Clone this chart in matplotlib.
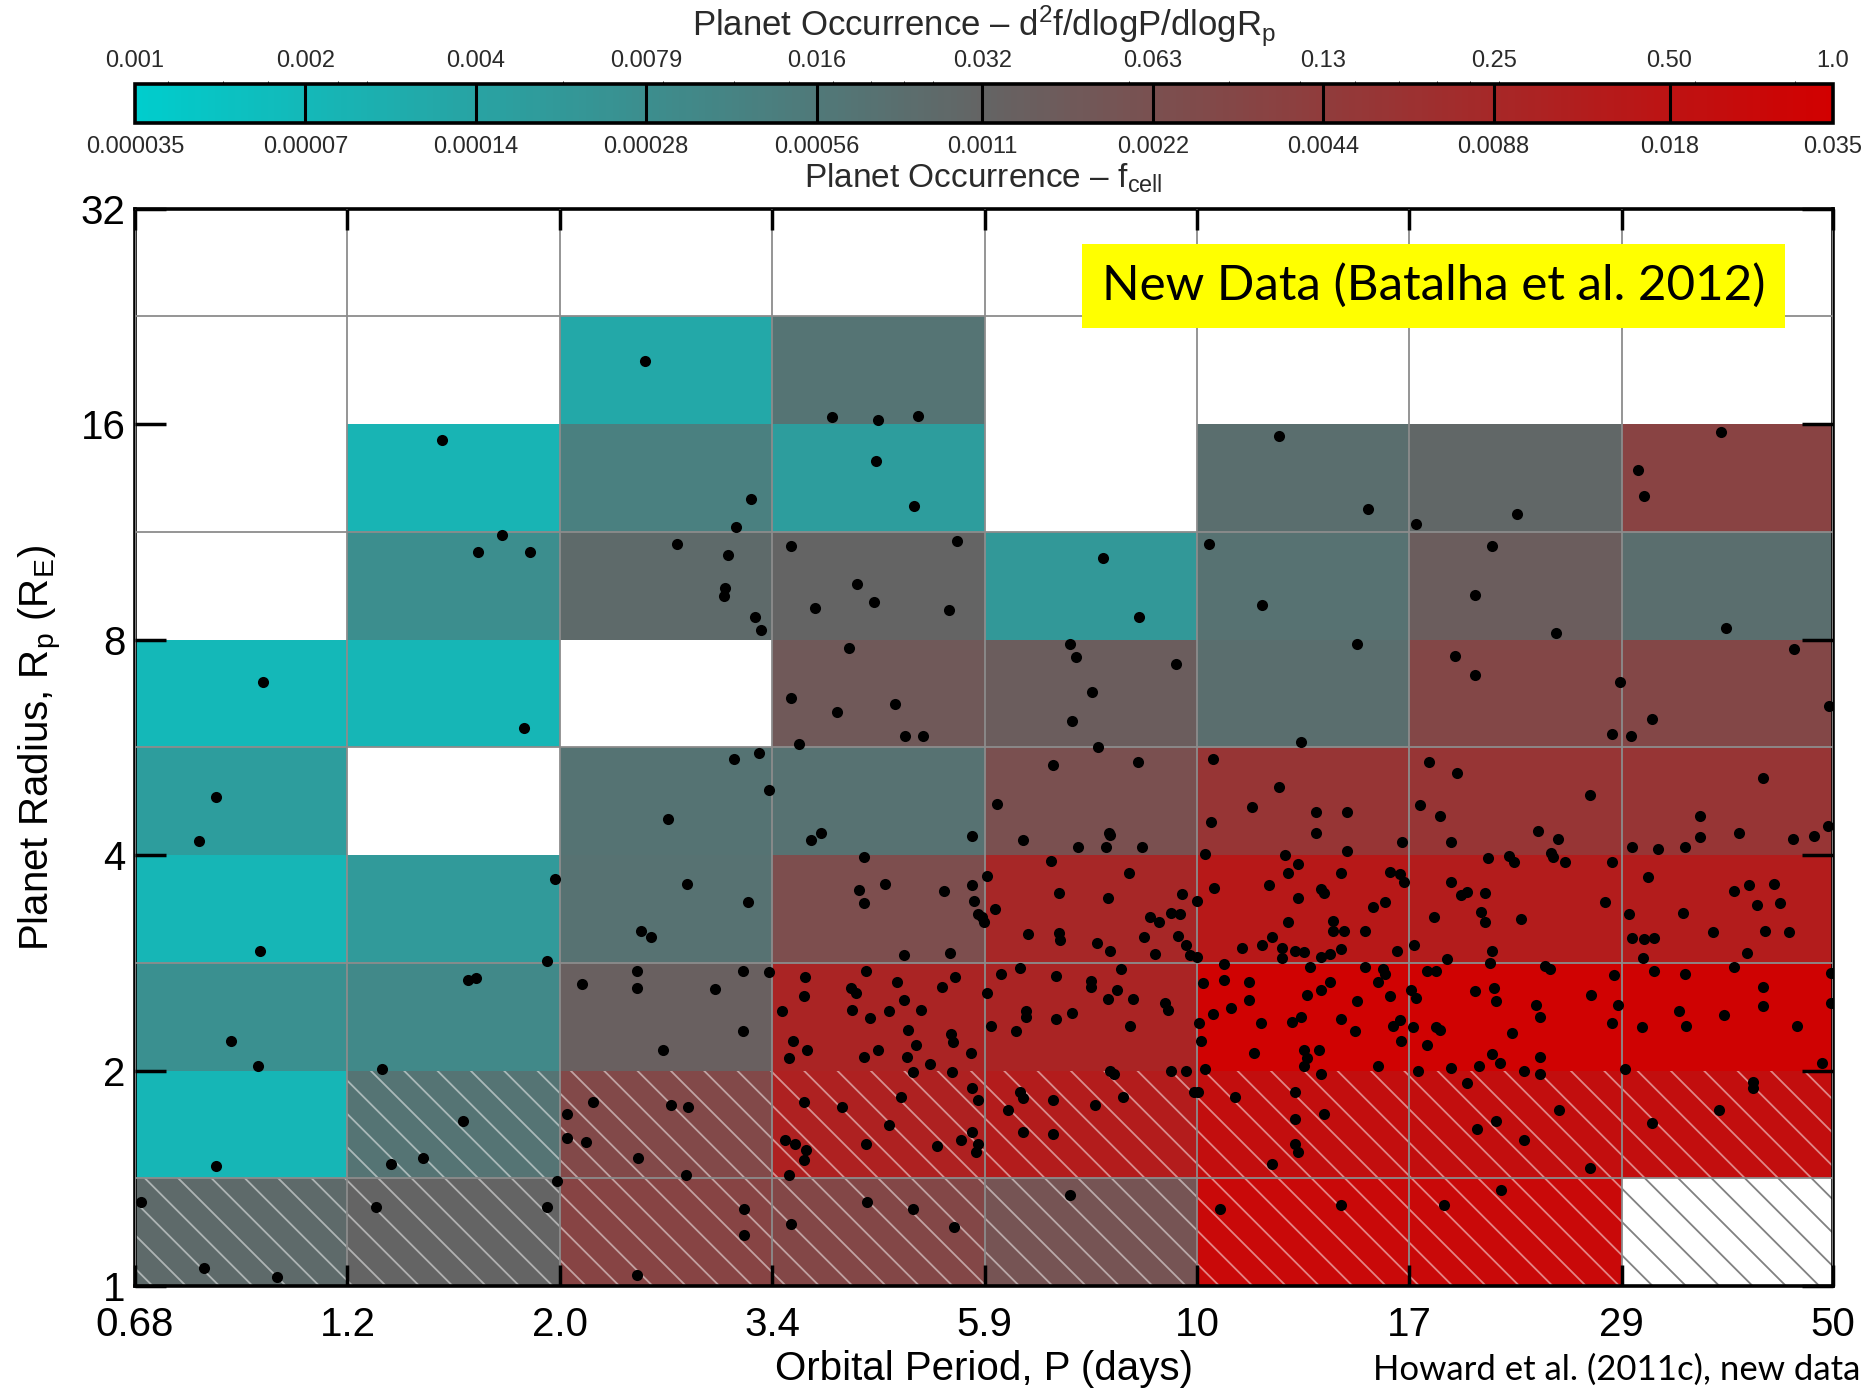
import numpy as np
import matplotlib
matplotlib.use("Agg")
import matplotlib.pyplot as plt
from matplotlib.colors import LinearSegmentedColormap, LogNorm
from matplotlib.patches import Rectangle
from matplotlib.ticker import FixedLocator, NullLocator, NullFormatter

plt.rcParams["font.family"] = ["Liberation Sans", "DejaVu Sans"]
plt.rcParams["mathtext.fontset"] = "custom"
plt.rcParams["mathtext.rm"] = "Liberation Sans"
plt.rcParams["mathtext.it"] = "Liberation Sans:italic"
plt.rcParams["hatch.linewidth"] = 1.3

# bin edges of the occurrence grid
PERIOD_EDGES = [0.68, 1.164, 1.993, 3.41, 5.84, 10.0, 17.1, 29.3, 50.0]
PERIOD_LABELS = ["0.68", "1.2", "2.0", "3.4", "5.9", "10", "17", "29", "50"]
RADIUS_EDGES = [1.0, 1.414, 2.0, 2.828, 4.0, 5.657, 8.0, 11.31, 16.0, 22.63, 32.0]
RADIUS_TICKS = [1, 2, 4, 8, 16, 32]

# colour scale: per-cell occurrence and the matching density per dlogP dlogR
FCELL_TICKS = [0.000035, 0.00007, 0.00014, 0.00028, 0.00056, 0.0011,
               0.0022, 0.0044, 0.0088, 0.018, 0.035]
FCELL_LABELS = ["0.000035", "0.00007", "0.00014", "0.00028", "0.00056", "0.0011",
                "0.0022", "0.0044", "0.0088", "0.018", "0.035"]
DENSITY_LABELS = ["0.001", "0.002", "0.004", "0.0079", "0.016", "0.032",
                  "0.063", "0.13", "0.25", "0.50", "1.0"]

nan = np.nan
# f_cell per bin, rows = radius bins (small to large), columns = period bins
f_cell = [
    [9.0e-4, 1.1e-3, 3.3e-3, 3.0e-3, 1.9e-3, 2.6e-2, 2.6e-2, nan],
    [7.5e-5, 6.5e-4, 2.8e-3, 1.1e-2, 1.3e-2, 2.1e-2, 2.1e-2, 2.1e-2],
    [2.6e-4, 3.3e-4, 1.3e-3, 1.0e-2, 1.0e-2, 3.3e-2, 3.3e-2, 3.2e-2],
    [7.5e-5, 1.9e-4, 7.0e-4, 2.4e-3, 9.0e-3, 1.5e-2, 1.3e-2, 1.3e-2],
    [1.7e-4, nan, 6.8e-4, 7.0e-4, 2.2e-3, 5.5e-3, 5.5e-3, 5.5e-3],
    [7.0e-5, 7.5e-5, nan, 1.6e-3, 1.4e-3, 7.8e-4, 3.0e-3, 3.0e-3],
    [nan, 2.8e-4, 9.0e-4, 1.1e-3, 2.0e-4, 7.0e-4, 1.4e-3, 7.8e-4],
    [nan, 8.0e-5, 4.5e-4, 1.7e-4, nan, 7.8e-4, 1.0e-3, 3.5e-3],
    [nan, nan, 1.2e-4, 6.5e-4, nan, nan, nan, nan],
    [nan, nan, nan, nan, nan, nan, nan, nan],
]

# bins with low completeness (hatched)
low_completeness = [
    [1, 1, 1, 1, 1, 1, 1, 1],
    [0, 1, 1, 1, 1, 1, 1, 1],
]

# planet candidates: orbital period (days) and radius (Earth radii)
dot_period = [
    0.939, 0.834, 0.800, 0.934, 0.868, 0.929, 0.834, 0.690, 0.810, 0.974,
    1.48, 1.72, 1.62, 1.85, 1.82, 1.97, 1.93, 1.58,
    1.61, 1.27, 1.56, 1.41, 1.30, 1.25, 1.93, 1.98,
    2.47, 3.23, 3.11, 2.68, 3.05, 3.02, 3.03, 3.27, 3.32, 3.30, 3.10, 3.38,
    2.62, 2.75, 3.21, 2.45, 2.51, 3.38, 2.42, 3.17, 2.11, 2.42, 2.95, 3.17,
    2.59, 2.17, 2.64, 2.76, 2.03, 2.03, 2.13, 2.43, 2.74, 3.18, 3.18, 2.42,
    3.97, 4.46, 4.94, 4.44, 4.89, 3.58, 5.44, 4.23, 4.41,
    3.80, 5.33, 4.14, 3.58, 4.02, 4.66, 4.77, 5.00, 3.65,
    3.76, 3.86, 5.65, 4.30, 4.25, 4.30, 4.54, 5.27,
    5.65, 5.68, 5.75, 5.83, 5.80, 4.76, 5.35,
    3.71, 3.70, 3.50, 3.60, 3.56, 3.73, 4.16, 4.22, 4.18, 4.33,
    4.68, 4.37, 4.58, 4.76, 4.97, 4.81, 4.91, 5.24, 5.42,
    5.36, 5.39, 5.64, 4.46, 4.30, 4.80, 5.08, 4.87, 5.38,
    3.70, 4.07, 4.73, 4.58, 5.65, 5.75, 3.52, 3.61, 3.72,
    3.70, 3.56, 4.33, 5.18, 5.50, 5.65, 5.75, 5.71,
    4.34, 4.87, 3.58, 5.40,
    7.89, 8.64, 7.24, 7.36, 9.47, 7.66, 7.28, 7.79,
    6.94, 8.60, 6.02, 6.44, 8.00, 8.03, 7.40, 7.94, 8.69,
    6.90, 5.88, 6.00, 7.05, 7.98, 8.41, 9.63, 9.37, 9.58, 8.88, 9.07,
    6.51, 7.05, 7.07, 7.77, 8.03, 8.74, 9.52, 9.72, 9.83, 8.98,
    6.09, 6.39, 5.88, 7.00, 7.65, 7.65, 8.24, 7.98, 8.17, 8.51, 6.49, 6.49,
    5.94, 6.33, 7.00, 7.29, 8.43, 9.22, 9.30, 8.02, 8.10, 9.37, 9.73,
    6.39, 6.44, 6.20, 6.94, 7.73, 8.29, 9.93, 6.44, 6.94, 7.24,
    12.3, 15.4, 10.3, 11.8, 15.0, 13.0, 10.4, 10.35, 11.5, 12.3, 13.5, 14.6,
    13.5, 10.2, 12.5, 14.6, 16.8,
    12.9, 12.6, 14.4, 10.45, 12.0, 13.7, 13.8, 12.9, 10.0, 16.3, 16.7, 16.9,
    15.6, 16.1, 12.6, 14.1, 14.1, 14.5, 15.3, 11.2, 11.8, 12.1, 12.4, 12.8,
    13.1, 13.7, 14.0, 14.4, 16.6, 10.0, 12.4,
    10.7, 13.3, 10.15, 10.7, 11.4, 11.4, 10.9, 10.4, 10.05, 10.1, 11.75, 11.55,
    10.2, 13.2, 13.7, 14.0, 15.0, 12.7, 13.0, 14.4, 14.9, 13.1, 13.2, 13.1,
    13.6, 15.3, 16.0, 16.1, 15.8, 16.3, 16.4, 16.7, 15.8, 16.75,
    13.7, 10.02, 11.0, 12.8, 13.8, 12.8, 12.8, 12.9, 12.1, 10.6, 14.4,
    17.4, 22.5, 21.1, 20.2, 24.8, 19.2, 20.2, 29.2, 28.6,
    18.0, 19.3, 17.6, 18.5, 19.0, 23.7, 24.9, 24.5, 27.0,
    20.9, 22.0, 22.3, 24.6, 25.4, 28.6, 19.0, 19.5, 19.8, 20.7,
    18.2, 20.5, 20.7, 22.7, 28.1, 17.3, 18.8, 21.1, 21.0,
    18.3, 17.9, 24.1, 24.4, 28.7, 17.2, 17.4, 20.2, 21.2, 21.3, 17.25, 18.3, 18.5,
    17.9, 22.2, 23.6, 23.8, 27.1, 29.0, 28.6, 21.1, 21.5, 23.8, 20.4, 19.0, 17.5, 22.9,
    23.8, 20.3, 21.3, 22.9, 19.8, 25.0, 27.0, 21.6, 18.7,
    37.7, 30.5, 31.0, 38.1, 31.6, 30.0, 45.3, 49.5,
    41.9, 35.7, 35.7, 39.4, 45.2, 47.6, 49.4, 30.1, 32.1, 34.4,
    29.8, 31.3, 34.2, 30.1, 31.0, 31.8, 30.9, 38.9,
    40.4, 43.1, 41.3, 43.7, 42.1, 44.7, 36.9, 40.2,
    38.9, 30.8, 31.8, 34.4, 33.9, 34.5, 37.9, 49.8,
    41.9, 41.9, 45.6, 29.5, 48.6, 49.7, 31.6, 37.5, 40.8, 40.8,
]
dot_radius = [
    6.99, 4.83, 4.19, 2.94, 2.20, 2.03, 1.47, 1.31, 1.06, 1.03,
    15.2, 11.2, 10.6, 10.6, 6.02, 3.70, 2.85, 2.68,
    2.69, 2.01, 1.70, 1.51, 1.48, 1.29, 1.29, 1.40,
    19.6, 12.6, 11.5, 10.9, 10.5, 9.22, 9.45, 8.60, 8.25, 5.56, 5.45, 4.94,
    4.50, 3.65, 3.44, 3.13, 3.07, 2.75, 2.76, 2.76, 2.64, 2.61, 2.60, 2.27,
    2.14, 1.81, 1.79, 1.78, 1.74, 1.61, 1.59, 1.51, 1.43, 1.28, 1.18, 1.035,
    16.4, 16.2, 16.45, 14.2, 12.3, 10.8, 11.0, 9.57, 9.03,
    8.86, 8.80, 7.78, 6.64, 6.34, 6.50, 5.86, 5.86, 5.72,
    4.20, 4.29, 4.26, 3.98, 3.58, 3.43, 3.65, 3.57,
    3.63, 3.45, 3.31, 3.23, 3.28, 2.90, 2.92,
    2.70, 2.54, 2.42, 2.20, 2.08, 2.14, 2.61, 2.57, 2.43, 2.76,
    2.66, 2.37, 2.42, 2.51, 2.43, 2.28, 2.17, 2.62, 2.70,
    2.25, 2.19, 2.12, 2.14, 2.09, 2.09, 2.04, 1.99, 1.99,
    1.81, 1.78, 1.84, 1.68, 1.89, 1.82, 1.60, 1.58, 1.55,
    1.50, 1.43, 1.58, 1.57, 1.60, 1.64, 1.58, 1.54,
    1.31, 1.28, 1.22, 1.21,
    10.4, 8.60, 7.88, 7.57, 7.41, 6.76, 6.15, 5.67,
    5.34, 5.39, 4.71, 4.20, 4.29, 4.27, 4.10, 4.10, 4.10,
    3.93, 3.74, 3.36, 3.54, 3.48, 3.78, 3.53, 3.32, 3.31, 3.28, 3.23,
    3.10, 3.11, 3.04, 3.02, 2.94, 3.07, 3.08, 3.00, 2.90, 2.91,
    2.73, 2.78, 2.57, 2.71, 2.67, 2.62, 2.77, 2.52, 2.59, 2.52, 2.42, 2.38,
    2.31, 2.27, 2.36, 2.41, 2.31, 2.49, 2.43, 2.00, 1.98, 2.00, 2.00,
    1.87, 1.83, 1.76, 1.82, 1.79, 1.84, 1.87, 1.64, 1.63, 1.34,
    15.4, 12.2, 10.9, 8.94, 7.90, 5.75, 5.45, 4.45, 4.67, 4.98, 4.60, 4.60,
    4.29, 4.02, 4.00, 4.05, 4.17,
    3.89, 3.78, 3.78, 3.60, 3.63, 3.59, 3.54, 3.49, 3.45, 3.79, 3.77, 3.67,
    3.39, 3.44, 3.23, 3.24, 3.13, 3.13, 3.13, 2.97, 3.00, 3.07, 2.97, 2.94,
    2.93, 2.88, 2.91, 2.96, 2.94, 2.88, 2.87,
    2.82, 2.79, 2.65, 2.68, 2.66, 2.51, 2.45, 2.40, 2.33, 2.20, 2.33, 2.12,
    2.01, 2.55, 2.59, 2.66, 2.50, 2.34, 2.38, 2.36, 2.27, 2.14, 2.08, 2.03,
    2.14, 2.79, 2.77, 2.73, 2.66, 2.54, 2.31, 2.35, 2.03, 2.20,
    1.98, 1.87, 1.84, 1.87, 1.74, 1.71, 1.58, 1.54, 1.48, 1.28, 1.30,
    11.6, 12.0, 10.8, 9.23, 8.17, 7.58, 7.14, 6.98, 5.90,
    5.40, 5.21, 4.70, 4.53, 4.17, 4.32, 4.21, 4.03, 4.86,
    3.97, 3.99, 3.91, 3.98, 3.91, 3.91, 3.67, 3.52, 3.55, 3.54,
    3.28, 3.33, 3.23, 3.26, 3.44, 3.00, 2.86, 2.94, 2.83,
    2.76, 2.76, 2.80, 2.77, 2.72, 2.59, 2.53, 2.58, 2.61, 2.50, 2.30, 2.30, 2.28,
    2.17, 2.26, 2.47, 2.38, 2.55, 2.47, 2.33, 2.11, 2.05, 2.09, 2.03, 2.02, 2.00, 2.00,
    1.98, 1.66, 1.70, 1.60, 1.92, 1.76, 1.46, 1.36, 1.30,
    15.6, 13.8, 12.7, 8.30, 6.20, 5.87, 7.77, 6.47,
    5.12, 4.53, 4.24, 4.29, 4.21, 4.26, 4.40, 4.10, 4.08, 4.10,
    3.31, 3.73, 3.32, 3.06, 3.05, 3.06, 2.87, 3.56,
    3.63, 3.64, 3.41, 3.43, 3.13, 3.12, 3.12, 2.92,
    2.79, 2.30, 2.76, 2.73, 2.42, 2.31, 2.39, 2.74,
    2.62, 2.46, 2.31, 2.01, 2.05, 2.49, 1.69, 1.76, 1.93, 1.89,
]

fig = plt.figure(figsize=(18.7, 13.92), dpi=100)
ax = fig.add_axes([0.0722, 0.0761, 0.908, 0.7739])

cmap = LinearSegmentedColormap.from_list("occurrence", ["#00cdcd", "#646464", "#d20000"])
cmap.set_bad((1, 1, 1, 0))
norm = LogNorm(vmin=FCELL_TICKS[0], vmax=FCELL_TICKS[-1])

mesh = ax.pcolormesh(PERIOD_EDGES, RADIUS_EDGES, np.ma.masked_invalid(f_cell),
                     cmap=cmap, norm=norm, zorder=1)

# hatch the low-completeness bins
for r, row in enumerate(low_completeness):
    for c, flag in enumerate(row):
        if not flag:
            continue
        empty = np.isnan(f_cell[r][c])
        ax.add_patch(Rectangle(
            (PERIOD_EDGES[c], RADIUS_EDGES[r]),
            PERIOD_EDGES[c + 1] - PERIOD_EDGES[c],
            RADIUS_EDGES[r + 1] - RADIUS_EDGES[r],
            facecolor="none",
            edgecolor=(0.45, 0.45, 0.45, 0.9) if empty else (1, 1, 1, 0.5),
            hatch="\\", linewidth=0, zorder=2,
        ))

ax.plot(dot_period, dot_radius, "o", color="black", markersize=8,
        markeredgewidth=0, zorder=5)

ax.set_xscale("log")
ax.set_yscale("log", base=2)
ax.set_xlim(PERIOD_EDGES[0], PERIOD_EDGES[-1])
ax.set_ylim(RADIUS_EDGES[0], RADIUS_EDGES[-1])

ax.xaxis.set_major_locator(FixedLocator(PERIOD_EDGES))
ax.xaxis.set_minor_locator(NullLocator())
ax.set_xticklabels(PERIOD_LABELS)
ax.yaxis.set_major_locator(FixedLocator(RADIUS_TICKS))
ax.yaxis.set_minor_locator(FixedLocator(RADIUS_EDGES))
ax.yaxis.set_minor_formatter(NullFormatter())
ax.set_yticklabels([str(t) for t in RADIUS_TICKS])

ax.set_axisbelow(False)
grid_color = (0.55, 0.55, 0.55, 0.45)
ax.grid(True, which="major", axis="x", color=grid_color, linewidth=1.3)
ax.grid(True, which="minor", axis="y", color=grid_color, linewidth=1.3)

ax.tick_params(axis="x", which="major", direction="in", length=15, width=2.5,
               top=True, labelsize=29, pad=14)
ax.tick_params(axis="y", which="major", direction="in", length=22, width=2.5,
               right=True, labelsize=29, pad=7)
ax.tick_params(axis="y", which="minor", length=0)
for spine in ax.spines.values():
    spine.set_linewidth(2.6)

# label box for the data source
ax.add_patch(Rectangle((0.558, 0.8895), 0.414, 0.078, transform=ax.transAxes,
                       facecolor="#ffff00", edgecolor="none", zorder=6))
ax.text(0.765, 0.9285, "New Data (Batalha et al. 2012)", transform=ax.transAxes,
        ha="center", va="center", fontsize=35.5, family=["Lato", "DejaVu Sans"],
        color="black", zorder=7)

# colour bar with both occurrence scales
cax = fig.add_axes([0.0722, 0.9116, 0.908, 0.0284])
cb = fig.colorbar(mesh, cax=cax, orientation="horizontal")
cb.minorticks_off()
cb.set_ticks(FCELL_TICKS, labels=FCELL_LABELS)
cb.outline.set_linewidth(2.6)
for f in FCELL_TICKS[1:-1]:
    cax.axvline(f, color="black", linewidth=2.2)
cax.tick_params(axis="x", length=0, labelsize=17, pad=9, labelcolor="#2a2a2a")
top = cax.secondary_xaxis("top")
top.set_xticks(FCELL_TICKS, labels=DENSITY_LABELS)
top.tick_params(length=0, labelsize=17, pad=8, labelcolor="#2a2a2a")
for spine in top.spines.values():
    spine.set_visible(False)

fig.text(0.526, 0.981, "Planet Occurrence – d$^2$f/dlogP/dlogR$_\\mathrm{p}$",
         ha="center", va="center", fontsize=25, color="#2a2a2a")
fig.text(0.526, 0.872, "Planet Occurrence – f$_\\mathrm{cell}$",
         ha="center", va="center", fontsize=24, color="#2a2a2a")

fig.text(0.0218, 0.4626, "Planet Radius, R$_\\mathrm{p}$ (R$_\\mathrm{E}$)",
         rotation=90, ha="center", va="center", fontsize=29)
fig.text(0.526, 0.0086, "Orbital Period, P (days)", ha="center", va="baseline",
         fontsize=29)
fig.text(0.9947, 0.0086, "Howard et al. (2011c), new data", ha="right",
         va="baseline", fontsize=25, family=["Lato", "DejaVu Sans"])

fig.savefig("out.png", dpi=100)
